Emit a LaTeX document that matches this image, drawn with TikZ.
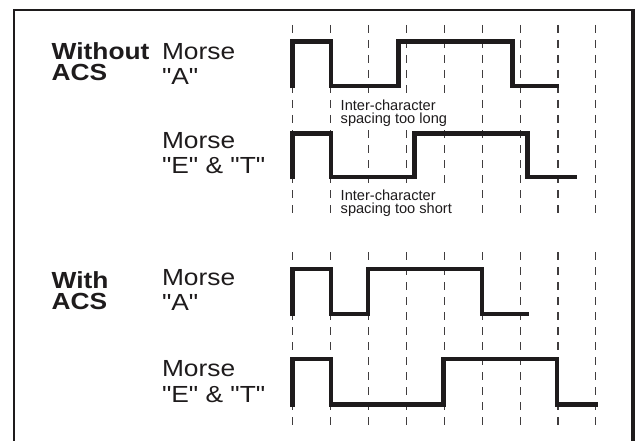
\documentclass[tikz,border=0pt]{standalone}
\usepackage{fontspec}
\setmainfont{Liberation Sans}
\newfontfamily\bigfont{Liberation Sans}[FakeStretch=1.13]
\definecolor{ink}{HTML}{1E1B1C}
\tikzset{
  wave/.style={line width=4.5pt, draw=ink, line join=miter},
  gridline/.style={line width=1.1pt, draw=ink!85, dash pattern=on 8pt off 7pt},
  framestyle/.style={line width=2.3pt, draw=ink},
  biglbl/.style={anchor=base west, inner sep=0pt, align=left, text=ink,
    font=\bigfont\fontsize{23.3}{25.5}\selectfont},
  boldlbl/.style={biglbl, font=\bigfont\bfseries\fontsize{23.3}{21.5}\selectfont},
  smalllbl/.style={anchor=base west, inner xsep=2pt, inner ysep=1pt, align=left, text=ink,
    fill=white, font=\fontsize{14.6}{13}\selectfont},
}
\begin{document}
\begin{tikzpicture}[x=1pt,y=-1pt]
\useasboundingbox (0,0) rectangle (639,441);
% frame (open at the bottom)
\draw[framestyle] (14,445) -- (14,10) -- (633,10);
\draw[line width=3.5pt, draw=ink] (633,8.85) -- (633,445);
% dashed time grid
\foreach \k in {0,...,8} {
  \draw[gridline] ({292.7+37.9*\k},25) -- ({292.7+37.9*\k},217);
  \draw[gridline] ({292.7+37.9*\k},252) -- ({292.7+37.9*\k},425);
}
% waveforms: without ACS
\draw[wave] (292.7,88.5) -- (292.7,41.3) -- (331,41.3) -- (331,86.2) -- (398.7,86.2)
  -- (398.7,41.3) -- (512.5,41.3) -- (512.5,86.2) -- (558.7,86.2);
\draw[wave] (292.7,179.3) -- (292.7,133.5) -- (331,133.5) -- (331,177) -- (414.7,177)
  -- (414.7,133.5) -- (527.7,133.5) -- (527.7,177) -- (576.7,177);
% waveforms: with ACS
\draw[wave] (292.7,316) -- (292.7,269.2) -- (331,269.2) -- (331,313.8) -- (368,313.8)
  -- (368,269.2) -- (482,269.2) -- (482,313.8) -- (529.3,313.8);
\draw[wave] (292.7,406.5) -- (292.7,359.2) -- (331,359.2) -- (331,404.3) -- (443.7,404.3)
  -- (443.7,359.2) -- (557,359.2) -- (557,404.3) -- (598.3,404.3);
% labels (anchored at the baseline of the last line)
\node[boldlbl] (without) at (51.5,80.8) {Without\\ACS};
\node[biglbl] (mA1) at (161.8,84.8) {Morse\\"A"};
\node[biglbl] (mET1) at (161.8,173.8) {Morse\\"E" \& "T"};
\node[smalllbl] (long) at (338.5,123) {Inter-character\\spacing too long};
\node[smalllbl] (short) at (338.5,213) {Inter-character\\spacing too short};
\node[boldlbl] (with) at (51.5,309.5) {With\\ACS};
\node[biglbl] (mA2) at (161.8,310.5) {Morse\\"A"};
\node[biglbl] (mET2) at (161.8,402.2) {Morse\\"E" \& "T"};
\end{tikzpicture}
\end{document}
